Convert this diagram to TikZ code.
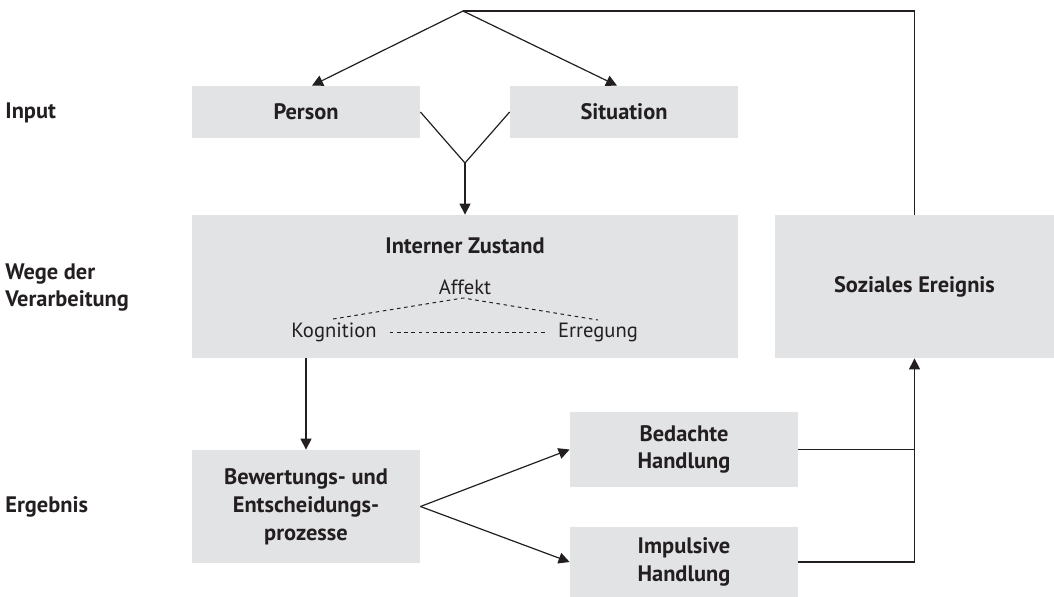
\documentclass[tikz,border=0pt]{standalone}
\usepackage{fontspec}
\setmainfont{PT Sans}
\usetikzlibrary{arrows.meta,calc}
\definecolor{boxgray}{HTML}{E2E3E5}
\definecolor{ink}{HTML}{231F20}
\newcommand\dfont{\fontsize{10.3}{13.75}\selectfont}
\newcommand\bfont{\fontsize{11.2}{13.9}\selectfont\bfseries}
\begin{document}
\begin{tikzpicture}[x=0.5pt,y=-0.5pt,
  font=\dfont, text=ink,
  box/.style={fill=boxgray, inner sep=0pt, align=center, font=\bfont},
  lbl/.style={font=\bfont, align=left, anchor=west, inner sep=0pt},
  conn/.style={draw=ink, line width=0.6pt},
  arr/.style={conn, -{Triangle[length=5.5pt,width=5.5pt]}},
  dashline/.style={draw=ink, line width=0.5pt, dash pattern=on 1.8pt off 1.8pt}]
\useasboundingbox (0,0) rectangle (1054,596);

% row labels
\node[lbl] (linput) at (5,113) {Input};
\node[lbl] (lwege) at (5,287.5) {Wege der\\Verarbeitung};
\node[lbl] (lerg) at (5,507) {Ergebnis};

% boxes
\node[box, minimum width=114pt, minimum height=26pt] (person) at (306,112) {Person};
\node[box, minimum width=114pt, minimum height=26pt] (situation) at (624,112) {Situation};
\node[box, minimum width=273pt, minimum height=71.5pt] (interner) at (465,286.5) {};
\node[box, minimum width=139.5pt, minimum height=71.5pt] (soziales) at (914.5,286.5) {Soziales Ereignis};
\node[box, minimum width=114pt, minimum height=56.5pt] (bewertung) at (306,506.5) {Bewertungs- und\\Entscheidungs-\\prozesse};
\node[box, minimum width=114pt, minimum height=37.5pt] (bedachte) at (684,449.5) {Bedachte\\Handlung};
\node[box, minimum width=114pt, minimum height=35pt] (impulsive) at (684,562) {Impulsive\\Handlung};

% contents of Interner Zustand
\node[font=\bfont] (iz) at (465,246) {Interner Zustand};
\node (affekt) at (465,287) {Affekt};
\node (kog) at (334,332) {Kognition};
\node (err) at (598,332) {Erregung};
\coordinate (kt) at (333,319);
\coordinate (at) at (463,298);
\coordinate (et) at (598,320);
\draw[dashline] (kt) -- (at) -- (et);
\draw[dashline, shorten <=3pt, shorten >=3pt] (kog.east) -- (err.west);

% top feedback and input arrows
\coordinate (apex) at (463,11);
\draw[arr] (apex) -- ([xshift=3pt]person.north);
\draw[arr] (apex) -- ([xshift=-3.5pt]situation.north);
\draw[conn] (apex) -- (apex -| soziales.north) -- (soziales.north);

% V merge
\coordinate (vpt) at (465,163);
\draw[conn] (person.east) -- (vpt) -- (situation.west);
\draw[arr] (vpt) -- (interner.north);

% down to Bewertung
\draw[arr] (bewertung.north |- interner.south) -- (bewertung.north);

% split to actions
\draw[arr] (bewertung.east) -- (bedachte.west);
\draw[arr] (bewertung.east) -- (impulsive.west);

% actions to social event
\draw[conn] (bedachte.east) -- (bedachte.east -| soziales.south);
\draw[arr] (impulsive.east) -- (impulsive.east -| soziales.south) -- (soziales.south);
\end{tikzpicture}
\end{document}
